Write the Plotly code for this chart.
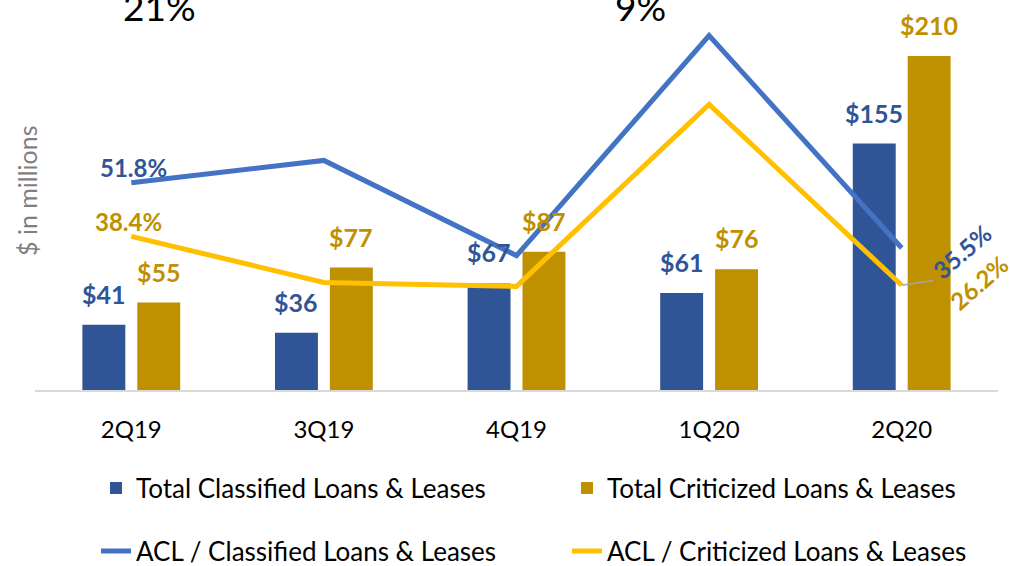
import plotly.graph_objects as go

# ---------------- data ----------------
quarters = ["2Q19", "3Q19", "4Q19", "1Q20", "2Q20"]
classified = [41, 36, 67, 61, 155]          # $ millions
criticized = [55, 77, 87, 76, 210]          # $ millions
acl_classified = [51.8, 57.4, 33.6, 88.6, 35.5]   # %
acl_criticized = [38.4, 26.9, 25.9, 71.4, 26.2]   # %

# ---------------- style ----------------
W, H = 1010, 566
ML, MR, MT, MB = 35, 12, 0, 176
PW, PH = W - ML - MR, H - MT - MB
FONT = "Lato, Calibri, Carlito, sans-serif"
BLUE_BAR, GOLD_BAR = "#2F5597", "#BF9000"
BLUE_LINE, GOLD_LINE = "#4472C4", "#FFC000"


def px_x(px):
    return (px - ML) / PW


def px_y(py):
    return (MT + PH - py) / PH


fig = go.Figure()
fig.add_trace(go.Bar(x=quarters, y=classified, name="Total Classified Loans & Leases",
                     marker=dict(color=BLUE_BAR, line=dict(width=0)), legend="legend"))
fig.add_trace(go.Bar(x=quarters, y=criticized, name="Total Criticized Loans & Leases",
                     marker=dict(color=GOLD_BAR, line=dict(width=0)), legend="legend2"))
fig.add_trace(go.Scatter(x=quarters, y=acl_classified, yaxis="y2", mode="lines",
                         name="ACL / Classified Loans & Leases",
                         line=dict(color=BLUE_LINE, width=5), legend="legend3"))
fig.add_trace(go.Scatter(x=quarters, y=acl_criticized, yaxis="y2", mode="lines",
                         name="ACL / Criticized Loans & Leases",
                         line=dict(color=GOLD_LINE, width=5), legend="legend4"))

ann = []
# bar value labels
for q, v in zip(quarters, classified):
    ann.append(dict(x=q, y=v, xref="x", yref="y", text=f"${v}", showarrow=False,
                    xshift=-27.5, yshift=14, xanchor="center", yanchor="bottom",
                    font=dict(family=FONT, size=25, color=BLUE_BAR, weight="bold")))
for q, v in zip(quarters, criticized):
    ann.append(dict(x=q, y=v, xref="x", yref="y", text=f"${v}", showarrow=False,
                    xshift=27.5, yshift=14, xanchor="center", yanchor="bottom",
                    font=dict(family=FONT, size=25, color=GOLD_BAR, weight="bold")))

LBL = dict(family=FONT, size=24, weight="bold")
# line labels (first and last points)
ann.append(dict(x=quarters[0], y=acl_classified[0], xref="x", yref="y2",
                text=f"{acl_classified[0]:.1f}%", showarrow=False, yshift=15, xshift=2,
                xanchor="center", yanchor="middle", font=dict(LBL, color=BLUE_BAR)))
ann.append(dict(x=quarters[0], y=acl_criticized[0], xref="x", yref="y2",
                text=f"{acl_criticized[0]:.1f}%", showarrow=False, yshift=15, xshift=-3,
                xanchor="center", yanchor="middle", font=dict(LBL, color=GOLD_BAR)))
ann.append(dict(x=quarters[-1], y=acl_criticized[-1], xref="x", yref="y2", text=" ",
                showarrow=True, arrowhead=0, ax=33, ay=-5, arrowcolor="#A6A6A6",
                arrowwidth=1.5, standoff=0, font=dict(size=1)))
ann.append(dict(x=quarters[-1], y=acl_classified[-1], xref="x", yref="y2",
                text=f"{acl_classified[-1]:.1f}%", showarrow=False, textangle=-41,
                xshift=60, yshift=-3, xanchor="center", yanchor="middle",
                font=dict(LBL, color=BLUE_BAR)))
ann.append(dict(x=quarters[-1], y=acl_criticized[-1], xref="x", yref="y2",
                text=f"{acl_criticized[-1]:.1f}%", showarrow=False, textangle=-41,
                xshift=77, yshift=3, xanchor="center", yanchor="middle",
                font=dict(LBL, color=GOLD_BAR)))

# cropped large texts at the top
ann.append(dict(x=px_x(159), y=px_y(31), xref="paper", yref="paper", text="21%",
                showarrow=False, xanchor="center", yanchor="bottom",
                font=dict(family=FONT, size=37, color="#000000")))
ann.append(dict(x=px_x(640), y=px_y(31), xref="paper", yref="paper", text="9%",
                showarrow=False, xanchor="center", yanchor="bottom",
                font=dict(family=FONT, size=37, color="#000000")))

# y-axis caption
ann.append(dict(x=px_x(27), y=px_y(191), xref="paper", yref="paper",
                text="$ in millions", showarrow=False, textangle=-90,
                xanchor="center", yanchor="middle",
                font=dict(family=FONT, size=25, color="#7F7F7F")))


def leg(xpx, ypx):
    return dict(orientation="h", x=px_x(xpx), y=px_y(ypx), xanchor="left",
                yanchor="middle", font=dict(family=FONT, size=26, color="#000000"),
                bgcolor="rgba(0,0,0,0)")


fig.update_layout(
    width=W, height=H,
    margin=dict(l=ML, r=MR, t=MT, b=MB, autoexpand=False),
    paper_bgcolor="white", plot_bgcolor="white",
    barmode="group", bargap=0.43, bargroupgap=0.218,
    font=dict(family=FONT, size=24, color="#000000"),
    xaxis=dict(showline=True, linecolor="#D9D9D9", linewidth=2, showgrid=False,
               ticks="", ticklabelstandoff=17, tickfont=dict(size=24, color="#000000"),
               range=[-0.5, 4.5]),
    yaxis=dict(range=[0, PH / 1.59], showgrid=False, showticklabels=False,
               zeroline=False, showline=False),
    yaxis2=dict(range=[0, PH / 4.0], overlaying="y", showgrid=False,
                showticklabels=False, zeroline=False, showline=False),
    legend=leg(96, 488),
    legend2=leg(567, 488),
    legend3=leg(96, 551),
    legend4=leg(567, 551),
    annotations=ann,
    showlegend=True,
)

fig.write_html("out.html",
               config={"displayModeBar": False},
               post_script="document.body.style.margin='0px';"
                           "document.body.style.overflow='hidden';")
